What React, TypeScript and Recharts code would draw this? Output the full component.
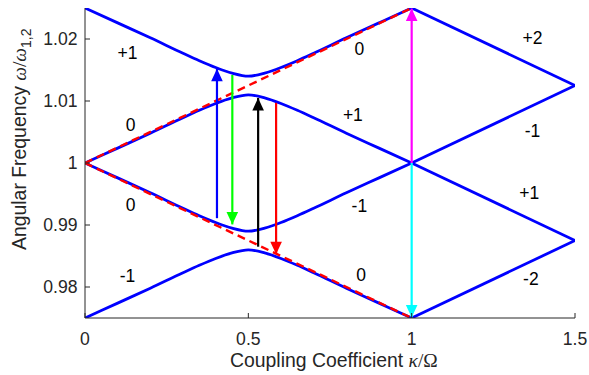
import React from 'react';
import { LineChart, Line, XAxis, YAxis, ReferenceDot } from 'recharts';

// Coupling coefficient samples (left region, with avoided crossings near 0.5)
const kappaLeft = [0, 0.1, 0.2, 0.3, 0.35, 0.4, 0.45, 0.5, 0.55, 0.6, 0.65, 0.7, 0.8, 0.9, 1];
const band1Left = [1.025, 1.0226, 1.0202, 1.0177, 1.0165, 1.0154, 1.0145, 1.014, 1.0145, 1.0154, 1.0165, 1.0177, 1.0202, 1.0226, 1.025];
const band2Left = [1.0, 1.0024, 1.0048, 1.0073, 1.0085, 1.0096, 1.0105, 1.011, 1.0105, 1.0096, 1.0085, 1.0073, 1.0048, 1.0024, 1.0];
const band3Left = [1.0, 0.9976, 0.9952, 0.9927, 0.9915, 0.9904, 0.9895, 0.989, 0.9895, 0.9904, 0.9915, 0.9927, 0.9952, 0.9976, 1.0];
const band4Left = [0.975, 0.9774, 0.9798, 0.9823, 0.9835, 0.9846, 0.9855, 0.986, 0.9855, 0.9846, 0.9835, 0.9823, 0.9798, 0.9774, 0.975];

// Right region (straight crossings)
const kappaRight = [1, 1.5];
const band1Right = [1.025, 1.0125];
const band2Right = [1.0, 1.0125];
const band3Right = [1.0, 0.9875];
const band4Right = [0.975, 0.9875];

// Diabatic (dashed) lines
const kappaDiab = [0, 1];
const diabUp = [1.0, 1.025];
const diabDown = [1.0, 0.975];

// Transition arrows
const arrowKappa = [0.404, 0.451, 0.53, 0.585, 1, 1];
const arrowFrom = [0.9911, 1.0142, 0.9865, 1.0097, 1.0, 1.0];
const arrowTo = [1.0152, 0.9901, 1.0105, 0.9853, 1.0249, 0.9751];
const arrowColors = ['#0000ff', '#00ff00', '#000000', '#ff0000', '#ff00ff', '#00ffff'];

// Region annotations
const labelText = ['+1', '0', '0', '-1', '0', '+1', '+2', '-1', '+1', '-1', '0', '-2'];
const labelKappa = [0.13, 0.14, 0.14, 0.13, 0.84, 0.82, 1.37, 1.37, 1.36, 0.84, 0.845, 1.365];
const labelOmega = [1.0178, 1.0062, 0.9933, 0.9818, 1.0184, 1.0078, 1.0202, 1.0051, 0.9952, 0.993, 0.982, 0.9813];

const xTicks = [0, 0.5, 1, 1.5];
const yTicks = [0.98, 0.99, 1, 1.01, 1.02];

const SANS = 'Liberation Sans, Arial, Helvetica, sans-serif';
const SERIF = '"Liberation Serif", "DejaVu Serif", serif';
const AXIS = '#262626';

const toPts = (xs: number[], ys: number[]) => xs.map((x, i) => ({ x, y: ys[i] }));

const XTick = (props: any) => {
  const { x, y, payload } = props;
  return (
    <g>
      <line x1={x} y1={y} x2={x} y2={y - 5} stroke={AXIS} strokeWidth={1} />
      <text x={x} y={y + 26.5} textAnchor="middle" fontFamily={SANS} fontSize={17.6} fill={AXIS}>
        {String(payload.value)}
      </text>
    </g>
  );
};

const YTick = (props: any) => {
  const { x, y, payload } = props;
  return (
    <g>
      <line x1={x} y1={y} x2={x + 5} y2={y} stroke={AXIS} strokeWidth={1} />
      <text x={x - 7.5} y={y + 6.3} textAnchor="end" fontFamily={SANS} fontSize={17.6} fill={AXIS}>
        {String(payload.value)}
      </text>
    </g>
  );
};

const XTitle = () => (
  <text x={230} y={366.5} fontFamily={SANS} fontSize={19.4} fill={AXIS}>
    Coupling Coefficient{' '}
    <tspan style={{ fontFamily: SERIF, fontStyle: 'italic' }}>κ</tspan>
    <tspan style={{ fontFamily: SERIF }}>/Ω</tspan>
  </text>
);

const YTitle = () => (
  <text transform="translate(26,250) rotate(-90)" x={0} y={0} fontFamily={SANS} fontSize={19.4} fill={AXIS}>
    Angular Frequency{' '}
    <tspan style={{ fontFamily: SERIF, fontStyle: 'italic' }}>ω</tspan>
    <tspan style={{ fontFamily: SERIF }}>/</tspan>
    <tspan style={{ fontFamily: SERIF, fontStyle: 'italic' }}>ω</tspan>
    <tspan fontSize={14} dy={5}>1,2</tspan>
  </text>
);

const makeArrowDot = (color: string, up: boolean) => (p: any) => {
  if (p.index !== 1) return <g key={p.key ?? `d${p.index}`} />;
  const { cx, cy } = p;
  const h = 12.5;
  const w = 5.8;
  const by = up ? cy + h : cy - h;
  return (
    <polygon
      key={p.key ?? `d${p.index}`}
      points={`${cx},${cy} ${cx - w},${by} ${cx + w},${by}`}
      fill={color}
      stroke="none"
    />
  );
};

const bandsLeft = [band1Left, band2Left, band3Left, band4Left];
const bandsRight = [band1Right, band2Right, band3Right, band4Right];

export default function App() {
  return (
    <div style={{ position: 'absolute', left: 0, top: 0 }}>
      <LineChart width={589} height={375} margin={{ top: 8, right: 14, bottom: 0, left: 0 }}>
        <XAxis
          type="number"
          dataKey="x"
          domain={[0, 1.5]}
          ticks={xTicks}
          tick={<XTick />}
          tickSize={0}
          tickMargin={0}
          tickLine={false}
          height={57}
          stroke={AXIS}
          allowDataOverflow
          label={<XTitle />}
        />
        <YAxis
          type="number"
          domain={[0.975, 1.025]}
          ticks={yTicks}
          tick={<YTick />}
          tickSize={0}
          tickMargin={0}
          tickLine={false}
          width={85}
          stroke={AXIS}
          allowDataOverflow
          label={<YTitle />}
        />
        {bandsLeft.map((b, i) => (
          <Line
            key={`bl${i}`}
            data={toPts(kappaLeft, b)}
            dataKey="y"
            type="monotone"
            stroke="#0000ff"
            strokeWidth={2.8}
            dot={false}
            activeDot={false}
            isAnimationActive={false}
          />
        ))}
        {bandsRight.map((b, i) => (
          <Line
            key={`br${i}`}
            data={toPts(kappaRight, b)}
            dataKey="y"
            type="linear"
            stroke="#0000ff"
            strokeWidth={2.8}
            dot={false}
            activeDot={false}
            isAnimationActive={false}
          />
        ))}
        {[diabUp, diabDown].map((d, i) => (
          <Line
            key={`dd${i}`}
            data={toPts(kappaDiab, d)}
            dataKey="y"
            type="linear"
            stroke="#ff0000"
            strokeWidth={2.4}
            strokeDasharray="8 5"
            dot={false}
            activeDot={false}
            isAnimationActive={false}
          />
        ))}
        {arrowKappa.map((k, i) => (
          <Line
            key={`ar${i}`}
            data={[
              { x: k, y: arrowFrom[i] },
              { x: k, y: arrowTo[i] },
            ]}
            dataKey="y"
            type="linear"
            stroke={arrowColors[i]}
            strokeWidth={2.2}
            dot={makeArrowDot(arrowColors[i], arrowTo[i] > arrowFrom[i])}
            activeDot={false}
            isAnimationActive={false}
          />
        ))}
        {labelText.map((t, i) => (
          <ReferenceDot
            key={`lb${i}`}
            x={labelKappa[i]}
            y={labelOmega[i]}
            r={0}
            shape={(p: any) => (
              <text
                x={p.cx}
                y={p.cy}
                textAnchor="middle"
                dominantBaseline="central"
                fontFamily={SANS}
                fontSize={17.5}
                fill="#000000"
              >
                {t}
              </text>
            )}
          />
        ))}
      </LineChart>
    </div>
  );
}
